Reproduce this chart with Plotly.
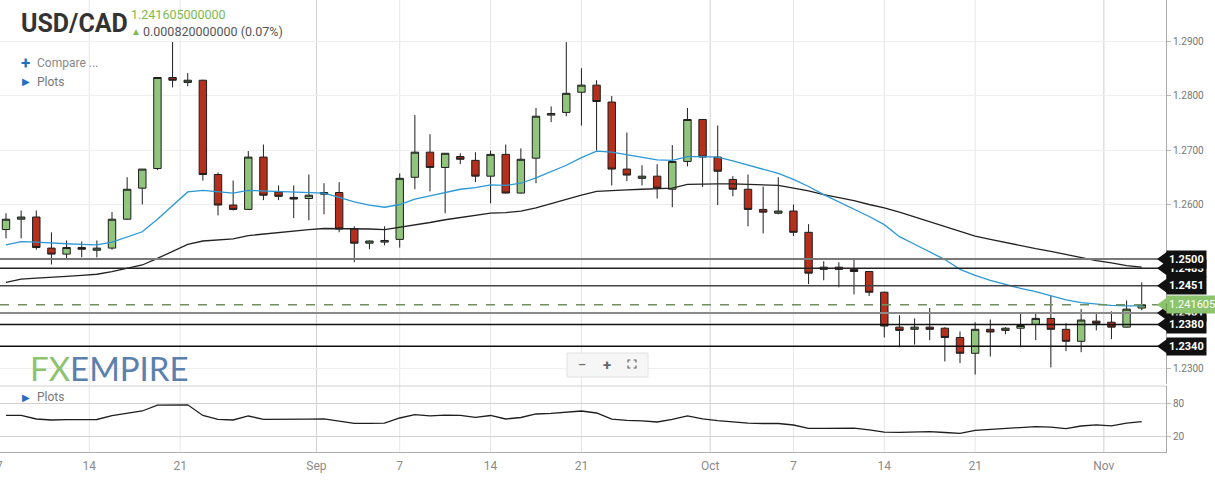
import datetime as dt
import plotly.graph_objects as go

# ---------------- data ----------------
open_ = [1.2554, 1.2573, 1.2577, 1.2520, 1.2509, 1.2521, 1.2516, 1.2520, 1.2573, 1.2630,
         1.2666, 1.2833, 1.2824, 1.2828, 1.2655, 1.2599, 1.2591, 1.2687, 1.2623, 1.2613,
         1.2611, 1.2619, 1.2622, 1.2555, 1.2529, 1.2531, 1.2536, 1.2650, 1.2696, 1.2668,
         1.2688, 1.2681, 1.2652, 1.2692, 1.2621, 1.2685, 1.2764, 1.2769, 1.2806, 1.2819,
         1.2788, 1.2665, 1.2648, 1.2652, 1.2628, 1.2679, 1.2756, 1.2687, 1.2646, 1.2628,
         1.2591, 1.2584, 1.2588, 1.2549, 1.2481, 1.2485, 1.2481, 1.2477, 1.2439, 1.2375,
         1.2371, 1.2375, 1.2373, 1.2356, 1.2327, 1.2371, 1.2369, 1.2373, 1.2380, 1.2391,
         1.2371, 1.2349, 1.2386, 1.2384, 1.2375, 1.2410]
high = [1.2584, 1.2589, 1.2589, 1.2549, 1.2534, 1.2532, 1.2534, 1.2586, 1.2650, 1.2665,
        1.2833, 1.2898, 1.2841, 1.2829, 1.2659, 1.2644, 1.2698, 1.2710, 1.2635, 1.2635,
        1.2655, 1.2639, 1.2641, 1.2560, 1.2534, 1.2560, 1.2657, 1.2764, 1.2729, 1.2694,
        1.2694, 1.2696, 1.2699, 1.2710, 1.2703, 1.2777, 1.2780, 1.2898, 1.2850, 1.2828,
        1.2799, 1.2732, 1.2672, 1.2674, 1.2709, 1.2777, 1.2757, 1.2745, 1.2652, 1.2655,
        1.2633, 1.2650, 1.2600, 1.2564, 1.2496, 1.2494, 1.2499, 1.2478, 1.2440, 1.2397,
        1.2391, 1.2410, 1.2375, 1.2367, 1.2384, 1.2389, 1.2375, 1.2400, 1.2400, 1.2432,
        1.2382, 1.2408, 1.2400, 1.2404, 1.2424, 1.2457]
low = [1.2538, 1.2538, 1.2517, 1.2490, 1.2499, 1.2503, 1.2503, 1.2517, 1.2572, 1.2600,
       1.2663, 1.2815, 1.2817, 1.2644, 1.2580, 1.2589, 1.2590, 1.2608, 1.2608, 1.2575,
       1.2571, 1.2582, 1.2549, 1.2494, 1.2518, 1.2525, 1.2521, 1.2628, 1.2624, 1.2584,
       1.2674, 1.2641, 1.2602, 1.2620, 1.2620, 1.2639, 1.2751, 1.2762, 1.2745, 1.2699,
       1.2635, 1.2643, 1.2635, 1.2611, 1.2595, 1.2670, 1.2632, 1.2599, 1.2615, 1.2560,
       1.2547, 1.2582, 1.2542, 1.2454, 1.2461, 1.2448, 1.2435, 1.2432, 1.2356, 1.2338,
       1.2343, 1.2351, 1.2312, 1.2309, 1.2288, 1.2321, 1.2362, 1.2338, 1.2351, 1.2301,
       1.2331, 1.2329, 1.2369, 1.2353, 1.2374, 1.2406]
close = [1.2573, 1.2577, 1.2521, 1.2509, 1.2521, 1.2518, 1.2520, 1.2573, 1.2628, 1.2665,
         1.2833, 1.2828, 1.2828, 1.2655, 1.2599, 1.2591, 1.2687, 1.2617, 1.2615, 1.2610,
         1.2617, 1.2622, 1.2555, 1.2529, 1.2533, 1.2534, 1.2648, 1.2696, 1.2668, 1.2694,
         1.2683, 1.2652, 1.2692, 1.2621, 1.2683, 1.2762, 1.2767, 1.2804, 1.2819, 1.2789,
         1.2665, 1.2654, 1.2652, 1.2630, 1.2679, 1.2756, 1.2687, 1.2661, 1.2628, 1.2591,
         1.2586, 1.2588, 1.2549, 1.2474, 1.2485, 1.2481, 1.2477, 1.2439, 1.2377, 1.2369,
         1.2375, 1.2371, 1.2356, 1.2327, 1.2371, 1.2366, 1.2373, 1.2378, 1.2391, 1.2371,
         1.2349, 1.2388, 1.2382, 1.2375, 1.2408, 1.241605]
ma_fast = [1.2526, 1.2532, 1.2531, 1.2529, 1.2528, 1.2527, 1.2526, 1.2531, 1.2540, 1.2550,
           1.2573, 1.2598, 1.2623, 1.2626, 1.2623, 1.2621, 1.2626, 1.2625, 1.2624, 1.2623,
           1.2622, 1.2621, 1.2613, 1.2605, 1.2599, 1.2595, 1.2600, 1.2610, 1.2616, 1.2622,
           1.2628, 1.2631, 1.2636, 1.2635, 1.2639, 1.2649, 1.2660, 1.2672, 1.2686, 1.2698,
           1.2696, 1.2691, 1.2687, 1.2682, 1.2681, 1.2688, 1.2688, 1.2687, 1.2680, 1.2672,
           1.2665, 1.2657, 1.2646, 1.2633, 1.2618, 1.2605, 1.2591, 1.2578, 1.2563, 1.2541,
           1.2527, 1.2513, 1.2499, 1.2481, 1.2470, 1.2461, 1.2453, 1.2446, 1.2440, 1.2433,
           1.2425, 1.2420, 1.2417, 1.2415, 1.2414, 1.2414]
ma_slow = [1.2457, 1.2463, 1.2465, 1.2466, 1.2468, 1.2470, 1.2472, 1.2477, 1.2483, 1.2489,
           1.2501, 1.2514, 1.2527, 1.2533, 1.2535, 1.2537, 1.2543, 1.2546, 1.2549, 1.2552,
           1.2554, 1.2556, 1.2556, 1.2555, 1.2555, 1.2554, 1.2558, 1.2562, 1.2567, 1.2572,
           1.2576, 1.2580, 1.2584, 1.2585, 1.2588, 1.2594, 1.2602, 1.2609, 1.2617, 1.2624,
           1.2626, 1.2627, 1.2628, 1.2629, 1.2630, 1.2637, 1.2638, 1.2638, 1.2638, 1.2637,
           1.2636, 1.2635, 1.2630, 1.2625, 1.2618, 1.2613, 1.2607, 1.2600, 1.2594, 1.2586,
           1.2577, 1.2568, 1.2559, 1.2550, 1.2542, 1.2536, 1.2530, 1.2525, 1.2519, 1.2514,
           1.2508, 1.2502, 1.2497, 1.2493, 1.2488, 1.2485]
rsi = [58.3, 58.3, 51.8, 50.0, 50.7, 50.9, 50.9, 57.9, 62.6, 66.2,
       76.9, 77.3, 77.3, 58.1, 51.3, 50.0, 57.2, 51.3, 50.9, 50.9,
       51.4, 52.0, 47.7, 44.1, 43.9, 44.3, 53.6, 59.7, 57.5, 58.8,
       58.4, 54.7, 58.1, 51.8, 54.5, 60.8, 62.0, 64.6, 66.2, 62.6,
       51.4, 49.3, 48.6, 46.4, 51.1, 57.5, 52.0, 48.9, 46.6, 44.3,
       43.7, 43.7, 41.0, 34.9, 35.1, 35.5, 35.3, 32.2, 28.1, 27.7,
       28.8, 29.0, 27.5, 25.8, 31.5, 33.3, 34.0, 35.6, 38.1, 37.1,
       34.4, 39.2, 41.4, 39.6, 44.3, 47.0]
levels = [1.2483, 1.2500, 1.2451, 1.2401, 1.2380, 1.2340]
last_price = 1.241605
last_change = 0.000820
last_change_pct = 0.07
first_bar_date = dt.date(2021, 8, 8)
tick_dates = ["2021-08-14", "2021-08-21", "2021-09-01", "2021-09-07", "2021-09-14",
              "2021-09-21", "2021-10-01", "2021-10-07", "2021-10-14", "2021-10-21",
              "2021-11-01"]
tick_labels = ["14", "21", "Sep", "7", "14", "21", "Oct", "7", "14", "21", "Nov"]
edge_label = "7"
price_ticks = [1.2300, 1.2400, 1.2500, 1.2600, 1.2700, 1.2800, 1.2900]

# ---------------- geometry helpers ----------------
W, H = 1215, 481
MR, MB = 49, 29
PW, PH = W - MR, H - MB


def xp(px):
    return px / PW


def yp(py):
    return 1 - py / PH


n = len(close)
idx = list(range(n))

# bar dates: FX daily bars Sunday..Friday
bar_dates = []
d = first_bar_date
while len(bar_dates) < n:
    if d.weekday() != 5:
        bar_dates.append(d)
    d += dt.timedelta(days=1)

tick_pos = []
month_flags = []
for td_s, lab in zip(tick_dates, tick_labels):
    td = dt.date.fromisoformat(td_s)
    i = next(k for k, bd in enumerate(bar_dates) if bd >= td)
    is_month = not lab.isdigit()
    tick_pos.append(i - 0.5 if (is_month or bar_dates[i] != td) else i)
    month_flags.append(is_month)

GREEN = "#91c47c"
RED = "#b5301c"
FONT = "Roboto"

fig = go.Figure()
fig.add_trace(go.Candlestick(
    x=idx, open=open_, high=high, low=low, close=close,
    increasing=dict(line=dict(color="#1e1e1e", width=1), fillcolor=GREEN),
    decreasing=dict(line=dict(color="#1e1e1e", width=1), fillcolor=RED),
    whiskerwidth=0, showlegend=False, xaxis="x", yaxis="y"))
fig.add_trace(go.Scatter(x=idx, y=ma_slow, mode="lines", line=dict(color="#222222", width=1.3),
                         showlegend=False, xaxis="x", yaxis="y"))
fig.add_trace(go.Scatter(x=idx, y=ma_fast, mode="lines", line=dict(color="#2b98d6", width=1.3),
                         showlegend=False, xaxis="x", yaxis="y"))
fig.add_trace(go.Scatter(x=idx, y=rsi, mode="lines", line=dict(color="#1e1e1e", width=1.3),
                         showlegend=False, xaxis="x2", yaxis="y2"))

xr = [-6 / 15.143, (PW - 6) / 15.143]
y_top = 1.29 + 41 / 5450
y_bot = 1.29 - (384 - 41) / 5450

fig.update_layout(
    width=W, height=H, margin=dict(l=0, r=MR, t=0, b=MB),
    paper_bgcolor="white", plot_bgcolor="white",
    font=dict(family=FONT, color="#777"),
    xaxis=dict(domain=[0, 1], range=xr, showgrid=False, showticklabels=False, zeroline=False,
               anchor="y", rangeslider=dict(visible=False), fixedrange=True),
    xaxis2=dict(domain=[0, 1], range=xr, matches="x", anchor="y2", showgrid=False, zeroline=False,
                tickmode="array", tickvals=tick_pos, ticktext=tick_labels,
                tickfont=dict(size=12, color="#8a8a8a"), ticks="outside", ticklen=3,
                tickcolor="rgba(0,0,0,0)",
                showline=True, linecolor="#b0b0b0", linewidth=1),
    yaxis=dict(domain=[yp(384), 1], range=[y_bot, y_top], side="right", anchor="x",
               tickmode="array", tickvals=price_ticks,
               ticktext=[f"{v:.4f}" for v in price_ticks],
               tickfont=dict(size=10, color="#777"), ticks="outside", ticklen=4, tickcolor="#bbb",
               showgrid=True, gridcolor="#eeeeee", zeroline=False,
               showline=True, linecolor="#aaaaaa", linewidth=1),
    yaxis2=dict(domain=[0, yp(386)], range=[-7.5, 111.1], side="right", anchor="x2",
                tickmode="array", tickvals=[20, 80], tickfont=dict(size=10, color="#777"),
                ticks="outside", ticklen=4, tickcolor="#bbb",
                showgrid=True, gridcolor="#d2d2d2", zeroline=False,
                showline=True, linecolor="#aaaaaa", linewidth=1),
)

shapes = []
# white panel behind the title block
shapes.append(dict(type="rect", xref="paper", yref="paper", x0=xp(15), x1=xp(275),
                   y0=yp(44), y1=1, fillcolor="white", line=dict(width=0), layer="between"))
# vertical gridlines
for pos, is_m in zip(tick_pos, month_flags):
    shapes.append(dict(type="line", xref="x", yref="paper", x0=pos, x1=pos, y0=0, y1=1,
                       line=dict(color="#cfcfcf" if is_m else "#e6e6e6", width=1),
                       layer="between"))
# separator between panels
shapes.append(dict(type="line", xref="paper", yref="paper", x0=0, x1=1, y0=yp(386), y1=yp(386),
                   line=dict(color="#d0d0d0", width=1), layer="between"))

level_styles = {1.2500: ("#7a7a7a", 2), 1.2483: ("#222", 1.5), 1.2451: ("#444", 1.5),
                1.2401: ("#8a8a8a", 2), 1.2380: ("#111", 1.5), 1.2340: ("#111", 1.5)}
for lv in levels:
    col, wd = level_styles[lv]
    shapes.append(dict(type="line", xref="paper", yref="y", x0=0, x1=xp(1160), y0=lv, y1=lv,
                       line=dict(color=col, width=wd), layer="above"))
shapes.append(dict(type="line", xref="paper", yref="y", x0=0, x1=xp(1160), y0=last_price,
                   y1=last_price, line=dict(color="#6f8f5e", width=1.5, dash="dash"),
                   layer="above"))

half = 7.2 / 5450
tag_order = [1.2483, 1.2500, 1.2451, 1.2401, 1.2380, 1.2340]
for lv in tag_order + [last_price]:
    col = "#8cc46d" if lv == last_price else "#111111"
    shapes.append(dict(type="path", xref="paper", yref="y",
                       path=f"M {xp(1157)},{lv} L {xp(1167)},{lv + half} L {xp(1167)},{lv - half} Z",
                       fillcolor=col, line=dict(width=0), layer="above"))

# zoom control box
shapes.append(dict(type="rect", xref="paper", yref="paper", x0=xp(567), x1=xp(648),
                   y0=yp(377), y1=yp(353), fillcolor="#f6f6f6", line=dict(color="#e2e2e2", width=1),
                   layer="above"))
cx, cy, s = 632, 364, 4
for dx, dy in [(-1, -1), (1, -1), (-1, 1), (1, 1)]:
    x0, y0 = cx + dx * s, cy + dy * s
    shapes.append(dict(type="path", xref="paper", yref="paper",
                       path=f"M {xp(x0)},{yp(y0 - dy * 2.5)} L {xp(x0)},{yp(y0)} L {xp(x0 - dx * 2.5)},{yp(y0)}",
                       line=dict(color="#666", width=1.2), layer="above"))
fig.update_layout(shapes=shapes)

ann = []


def text(x, y, t, size, color, bold=False, family=FONT, anchor="left"):
    ann.append(dict(xref="paper", yref="paper", x=xp(x), y=yp(y), text=(f"<b>{t}</b>" if bold else t),
                    showarrow=False, xanchor=anchor, yanchor="middle",
                    font=dict(size=size, color=color, family=family)))


text(19, 23, "USD/CAD", 25, "#333333", bold=True)
text(129, 14, f"{last_price:.12f}", 12.5, "#7cba4c")
text(129, 31, "▲", 10, "#7cba4c")
text(141, 31, f"{last_change:.12f} ({last_change_pct:.2f}%)", 12.5, "#555555")
text(19, 63, "<b>+</b>", 17, "#1f6fc4")
text(35, 63, "Compare ...", 12, "#888888")
text(20, 82, "▶", 10, "#1f6fc4")
text(35, 82, "Plots", 12, "#777777")
text(20, 397, "▶", 10, "#1f6fc4")
text(35, 397, "Plots", 12, "#777777")
text(28, 368, "<span style='color:#8dc26f'>FX</span><span style='color:#5b80ad'>EMPIRE</span>",
     33, "#5b80ad", family="Lato")
text(582, 365, "−", 15, "#666666", anchor="center")
text(607, 365, "<b>+</b>", 15, "#666666", anchor="center")
# partially visible first date label at the left edge
text(-1, 466, edge_label, 12, "#8a8a8a", anchor="center")

for lv in tag_order:
    ann.append(dict(xref="paper", yref="y", x=xp(1166), y=lv, text=f"<b>{lv:.4f}</b>", showarrow=False,
                    xanchor="left", yanchor="middle", bgcolor="#111111", borderpad=2,
                    font=dict(size=11, color="white", family=FONT)))
ann.append(dict(xref="paper", yref="y", x=xp(1166), y=last_price, text=f"{last_price:.7f}",
                showarrow=False, xanchor="left", yanchor="middle", bgcolor="#8cc46d", borderpad=2,
                font=dict(size=11, color="white", family=FONT)))
fig.update_layout(annotations=ann)

fig.write_html("out.html")
